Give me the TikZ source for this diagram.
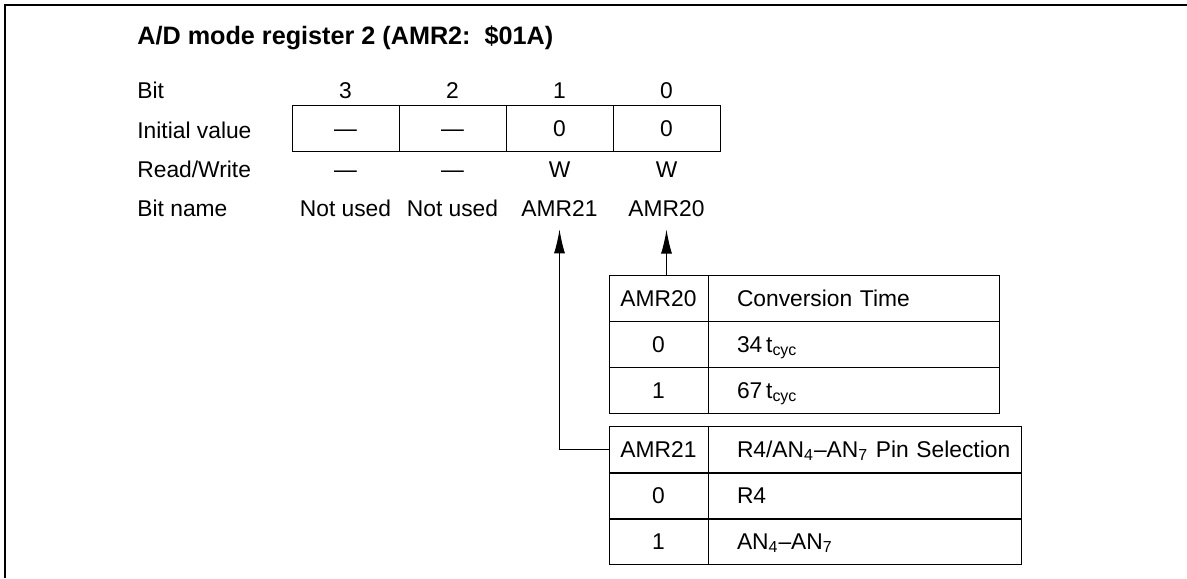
\documentclass[tikz,border=0pt]{standalone}
\usepackage{fontspec}
\setmainfont{Liberation Sans}
\usetikzlibrary{arrows.meta}
\tikzset{
  lbl/.style={anchor=base west, inner sep=0pt},
  val/.style={anchor=base, inner sep=0pt},
  cellbase/.style={draw, line width=0.5pt, minimum height=23pt, inner sep=0pt, text height=9.5pt, text depth=1.5pt},
  regcell/.style={cellbase, minimum width=53.5pt},
  keycell/.style={cellbase, minimum width=49.5pt},
  desccell/.style={cellbase, align=left},
  rowline/.style={line width=1pt},
}
\newcommand{\cellpad}{\hspace*{14.5pt}}
\begin{document}
\begin{tikzpicture}[x=0.5pt, y=-0.5pt, font=\fontsize{11.4}{13}\selectfont, >={Latex[length=12pt,width=5.5pt]}]
\useasboundingbox (0,0) rectangle (1187,578);
\draw[line width=1pt] (5,578) -- (5,5) -- (1187,5);
% heading and row labels
\node[lbl, font=\fontsize{12.6}{14}\selectfont\bfseries] (title) at (137,44) {A/D mode register 2 (AMR2:\ \ \$01A)};
\node[lbl] (bitlbl) at (137,98) {Bit};
\node[lbl] (initlbl) at (137,138) {Initial value};
\node[lbl] (rwlbl) at (137,177) {Read/Write};
\node[lbl] (namelbl) at (137,216) {Bit name};
% register
\foreach \i/\x/\v/\rw/\nm in {3/345.5/\textemdash/\textemdash/Not used, 2/452.5/\textemdash/\textemdash/Not used, 1/559.5/0/W/AMR21, 0/666.5/0/W/AMR20} {
  \node[val] (bit\i) at (\x,98) {\i};
  \node[regcell] (b\i) at (\x,128) {\v};
  \node[val] (rw\i) at (\x,177) {\rw};
  \node[val] (n\i) at (\x,216) {\nm};
}
% AMR20 table
\node[keycell] (k20) at (658.5,298) {AMR20};
\node[desccell, text width=145.5pt] (d20) at (853.5,298) {\cellpad Conversion Time};
\node[keycell] (k20a) at (658.5,344) {0};
\node[desccell, text width=145.5pt] (d20a) at (853.5,344) {\cellpad 34\,t\textsubscript{cyc}};
\node[keycell] (k20b) at (658.5,390) {1};
\node[desccell, text width=145.5pt] (d20b) at (853.5,390) {\cellpad 67\,t\textsubscript{cyc}};
% AMR21 table
\node[keycell] (k21) at (658.5,449) {AMR21};
\node[desccell, text width=156.5pt] (d21) at (864.5,449) {\cellpad R4/AN\textsubscript{4}--AN\textsubscript{7} Pin Selection};
\node[keycell] (k21a) at (658.5,495) {0};
\node[desccell, text width=156.5pt] (d21a) at (864.5,495) {\cellpad R4};
\node[keycell] (k21b) at (658.5,541) {1};
\node[desccell, text width=156.5pt] (d21b) at (864.5,541) {\cellpad AN\textsubscript{4}--AN\textsubscript{7}};
\draw[rowline] (k21.south west) -- (d21.south east);
\draw[rowline] (k21a.south west) -- (d21a.south east);
% arrows
\draw[->, line width=0.5pt] (k20.north -| n0) -- ([yshift=-6.5pt]n0.south);
\draw[->, line width=0.5pt] (k21.west) -- (k21.west -| n1) -- ([yshift=-6.5pt]n1.south);
\end{tikzpicture}
\end{document}
